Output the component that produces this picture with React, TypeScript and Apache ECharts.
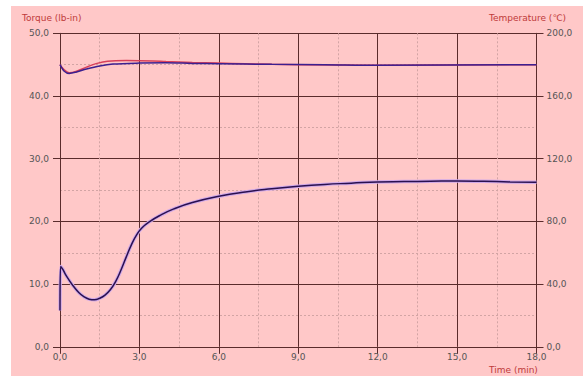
import React, { useEffect, useRef } from "react";
import * as echarts from "echarts";

const xTicks = [0, 3, 6, 9, 12, 15, 18];

const torque: [number, number][] = [
  [0, 5.8], [0.02, 12.8], [0.1, 12.4], [0.2, 11.6], [0.35, 10.6], [0.5, 9.7],
  [0.7, 8.7], [0.9, 8.0], [1.1, 7.6], [1.3, 7.5], [1.5, 7.75], [1.7, 8.25],
  [1.9, 9.1], [2.1, 10.4], [2.3, 12.2], [2.5, 14.3], [2.7, 16.3], [2.9, 17.9],
  [3.1, 19.0], [3.4, 20.0], [3.8, 21.0], [4.3, 22.0], [5, 23.0], [6, 24.0],
  [7, 24.7], [8, 25.2], [9, 25.6], [10, 25.9], [11, 26.1], [12, 26.3],
  [13, 26.35], [14, 26.4], [15, 26.45], [16, 26.4], [17, 26.3], [18, 26.25],
];

const tempRed: [number, number][] = [
  [0, 180.0], [0.15, 176.8], [0.35, 174.8], [0.6, 175.6], [1.0, 178.4],
  [1.4, 180.8], [1.8, 182.2], [2.5, 182.6], [3.5, 182.4], [4, 182.0],
  [5, 181.4], [6, 181.0], [7, 180.6], [8, 180.2], [9, 180.0], [12, 179.6],
  [18, 180.0],
];

const tempBlue: [number, number][] = [
  [0, 180.0], [0.15, 176.0], [0.35, 174.4], [0.6, 175.2], [1.0, 177.2],
  [1.5, 179.2], [2, 180.4], [3, 181.0], [4, 181.2], [5, 180.8], [6, 180.6],
  [8, 180.2], [10, 180.0], [12, 179.6], [18, 180.0],
];

const fmt = (v: number) => v.toFixed(1).replace(".", ",");

export default function App() {
  const ref = useRef<HTMLDivElement>(null);
  useEffect(() => {
    if (!ref.current) return;
    const chart = echarts.init(ref.current, undefined, { renderer: "svg" });
    const major = { color: "#5a2c2c", width: 1, type: "solid" as const };
    const minor = { color: "#d2a4a4", width: 1, type: [2, 2] as any };
    const labelStyle = { color: "#555", fontSize: 9, fontFamily: "DejaVu Sans" };
    chart.setOption({
      animation: false,
      backgroundColor: "#ffffff",
      graphic: [
        { type: "rect", z: -10, shape: { x: 11, y: 6, width: 572, height: 370 }, style: { fill: "#ffc8c8" } },
        { type: "text", x: 22, y: 13, style: { text: "Torque (lb-in)", fill: "#c03a3a", fontSize: 9, fontFamily: "DejaVu Sans" } },
        { type: "text", x: 489, y: 13, style: { text: "Temperature (℃)", fill: "#c03a3a", fontSize: 9, fontFamily: "DejaVu Sans" } },
        { type: "text", x: 489, y: 365, style: { text: "Time (min)", fill: "#c03a3a", fontSize: 9, fontFamily: "DejaVu Sans" } },
      ],
      grid: { left: 60, right: 46.5, top: 33.3, bottom: 29.2 },
      xAxis: {
        type: "value", min: 0, max: 18, interval: 3,
        axisLine: { show: true, lineStyle: major },
        axisTick: { show: true, length: 7, lineStyle: major },
        axisLabel: { ...labelStyle, margin: 6, formatter: fmt },
        splitLine: { show: true, lineStyle: major },
        minorTick: { show: false, splitNumber: 2 },
        minorSplitLine: { show: true, lineStyle: minor },
      },
      yAxis: [
        {
          type: "value", min: 0, max: 50, interval: 10, position: "left",
          axisLine: { show: true, lineStyle: major },
          axisTick: { show: true, length: 7, lineStyle: major },
          axisLabel: { ...labelStyle, margin: 11, formatter: fmt },
          splitLine: { show: true, lineStyle: major },
          minorTick: { show: false, splitNumber: 2 },
          minorSplitLine: { show: true, lineStyle: minor },
        },
        {
          type: "value", min: 0, max: 200, interval: 40, position: "right",
          axisLine: { show: true, lineStyle: major },
          axisTick: { show: true, length: 7, lineStyle: major },
          axisLabel: { ...labelStyle, margin: 10, formatter: fmt },
          splitLine: { show: false },
        },
      ],
      series: [
        {
          type: "line", yAxisIndex: 1, data: tempRed, showSymbol: false, smooth: 0.3,
          lineStyle: { color: "#d8405a", width: 1.5 }, z: 3,
        },
        {
          type: "line", yAxisIndex: 1, data: tempBlue, showSymbol: false, smooth: 0.3,
          lineStyle: { color: "#3c2090", width: 1.5 }, z: 4,
        },
        {
          type: "line", yAxisIndex: 0, data: torque, showSymbol: false, smooth: 0.5,
          lineStyle: { color: "#cfa8e8", width: 3.5 }, z: 2, silent: true,
        },
        {
          type: "line", yAxisIndex: 0, data: torque, showSymbol: false, smooth: 0.5,
          lineStyle: { color: "#2a1050", width: 1.5 }, z: 5,
        },
      ],
    });
    return () => chart.dispose();
  }, []);
  return (
    <div
      ref={ref}
      style={{ position: "absolute", left: 0, top: 0, width: 583, height: 376 }}
    />
  );
}
